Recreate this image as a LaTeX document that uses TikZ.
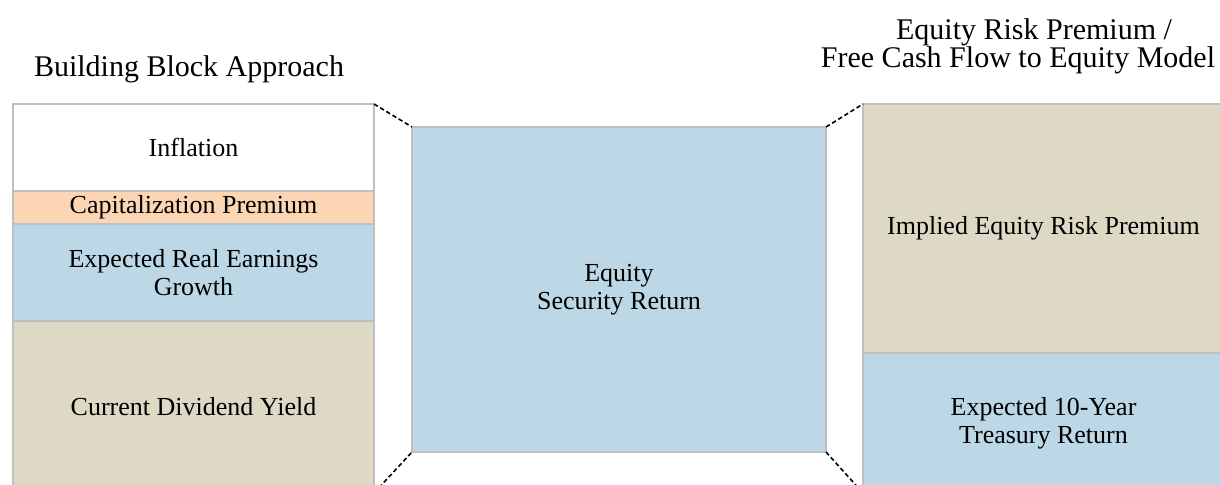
\documentclass[tikz,border=0pt]{standalone}
\usepackage{fontspec}
\setmainfont{Liberation Serif}
\usepackage{tikz}
\usetikzlibrary{positioning, calc}

\definecolor{peachblk}{HTML}{FCD5B4}
\definecolor{blueblk}{HTML}{BCD7E5}
\definecolor{tanblk}{HTML}{DDD9C4}
\definecolor{edgegray}{HTML}{BFBFBF}

\tikzset{
	block/.style={draw=edgegray, line width=0.8pt, inner sep=0pt, outer sep=0pt,
		align=center, font=\fontsize{13pt}{14pt}\selectfont},
	title/.style={align=center, font=\fontsize{15pt}{14pt}\selectfont},
	link/.style={dashed, dash pattern=on 2.2pt off 1.4pt, line width=0.8pt}
}

\begin{document}
\begin{tikzpicture}[x=0.5pt, y=-0.5pt]
		
		%Frame
		\useasboundingbox (0,0) rectangle (1220,484);
		\clip (0,0) rectangle (1220,484);
		
		%Titles
		\node (leftTitle) at(189,76) [title, anchor=base]{Building Block Approach};
		\node (rightTitle) at(1018,67) [title, anchor=base]{\hspace*{16pt}Equity Risk Premium /\\Free Cash Flow to Equity Model};
		
		%Building blocks
		\node (inflation) at(193.5,147.5) [block, fill=white, minimum width=180.5pt, minimum height=43.5pt]{Inflation};
		\node (capPremium) at(193.5,207.5) [block, fill=peachblk, minimum width=180.5pt, minimum height=16.5pt]{Capitalization Premium};
		\node (earnings) at(193.5,272.5) [block, fill=blueblk, minimum width=180.5pt, minimum height=48.5pt]{Expected Real Earnings\\Growth};
		\node (dividend) at(193.5,407) [block, fill=tanblk, minimum width=180.5pt, minimum height=86pt]{Current Dividend Yield};
		
		%Equity return
		\node (equityReturn) at(619,289.5) [block, fill=blueblk, minimum width=207pt, minimum height=162.5pt]{Equity\\Security Return};
		
		%Risk premium model
		\node (riskPremium) at(1043.5,228.5) [block, fill=tanblk, minimum width=180.5pt, minimum height=124.5pt]{Implied Equity Risk Premium};
		\node (treasury) at(1043.5,423) [block, fill=blueblk, minimum width=180.5pt, minimum height=70pt]{Expected 10-Year\\Treasury Return};
		
		%Links
		\draw[link] (inflation.north east) -- (equityReturn.north west);
		\draw[link] (dividend.south east) -- (equityReturn.south west);
		\draw[link] (equityReturn.north east) -- (riskPremium.north west);
		\draw[link] (equityReturn.south east) -- (treasury.south west);
		
\end{tikzpicture}
\end{document}
